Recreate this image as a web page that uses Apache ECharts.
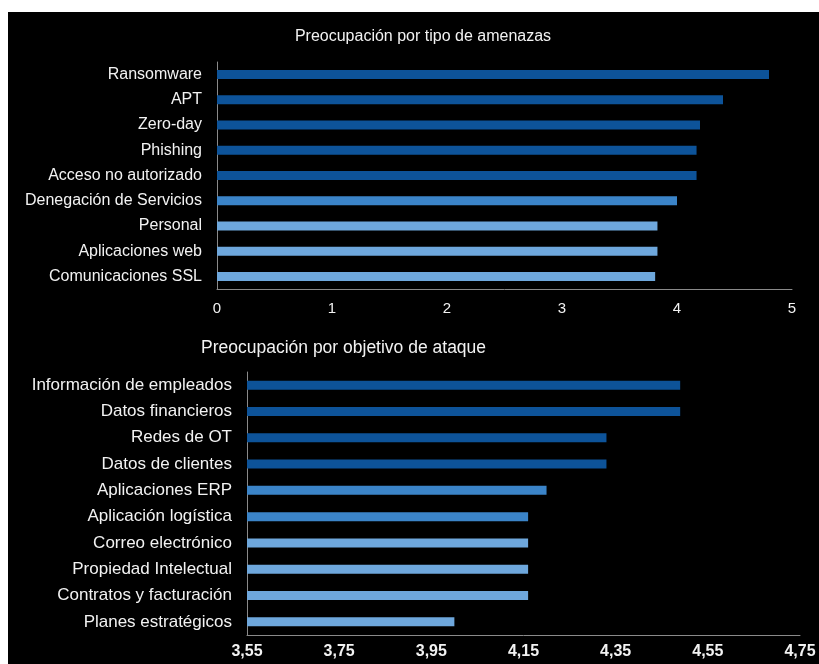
<!DOCTYPE html>
<html>
<head>
<meta charset="utf-8">
<style>
  html, body { margin: 0; padding: 0; background: #ffffff; }
  #chart { width: 819px; height: 664px; }
</style>
<script src="https://cdn.jsdelivr.net/npm/echarts@6/dist/echarts.min.js"></script>
</head>
<body>
<div id="chart"></div>
<script>
// Threat types (top panel)
const threatCategories = ['Ransomware', 'APT', 'Zero-day', 'Phishing', 'Acceso no autorizado',
  'Denegación de Servicios', 'Personal', 'Aplicaciones web', 'Comunicaciones SSL'];
const threatValues = [4.80, 4.40, 4.20, 4.17, 4.17, 4.00, 3.83, 3.83, 3.81];
const threatTiers = [0, 0, 0, 0, 0, 1, 2, 2, 2];
const threatTicks = ['0', '1', '2', '3', '4', '5'];

// Attack targets (bottom panel)
const targetCategories = ['Información de empleados', 'Datos financieros', 'Redes de OT', 'Datos de clientes',
  'Aplicaciones ERP', 'Aplicación logística', 'Correo electrónico', 'Propiedad Intelectual',
  'Contratos y facturación', 'Planes estratégicos'];
const targetValues = [4.49, 4.49, 4.33, 4.33, 4.20, 4.16, 4.16, 4.16, 4.16, 4.00];
const targetTiers = [0, 0, 0, 0, 1, 1, 2, 2, 2, 2];
const targetTicks = ['3,55', '3,75', '3,95', '4,15', '4,35', '4,55', '4,75'];

const tierColors = ['#0d5399', '#3b84c8', '#6ea7dc'];
const axisGray = '#8a8a8a';
const textColor = '#f2f2f2';
const sans = 'Liberation Sans, Arial, sans-serif';

const chart = echarts.init(document.getElementById('chart'));

function barData(values, tiers) {
  return values.map((v, i) => ({ value: v, itemStyle: { color: tierColors[tiers[i]] } }));
}

chart.setOption({
  backgroundColor: '#ffffff',
  animation: false,
  graphic: [{
    type: 'rect', z: -10, silent: true,
    shape: { x: 8, y: 12, width: 811, height: 652 },
    style: { fill: '#000000' }
  }],
  title: [
    {
      text: 'Preocupación por tipo de amenazas',
      left: 418, top: 24, textAlign: 'center',
      textStyle: { color: textColor, fontFamily: sans, fontSize: 16, fontWeight: 'normal' }
    },
    {
      text: 'Preocupación por objetivo de ataque',
      left: 196, top: 334,
      textStyle: { color: textColor, fontFamily: sans, fontSize: 17.5, fontWeight: 'normal' }
    }
  ],
  grid: [
    { left: 217, right: 27, top: 62, height: 227 },
    { left: 247, right: 19, top: 372, height: 263 }
  ],
  xAxis: [
    {
      gridIndex: 0, type: 'value', min: 0, max: 5, interval: 1,
      splitLine: { show: false },
      axisLine: { show: true, lineStyle: { color: axisGray, width: 1 } },
      axisTick: { show: false },
      axisLabel: {
        color: textColor, fontFamily: sans, fontSize: 15, margin: 12,
        formatter: (v) => threatTicks[Math.round(v)]
      }
    },
    {
      gridIndex: 1, type: 'value', min: 3.55, max: 4.75, interval: 0.2,
      splitLine: { show: false },
      axisLine: { show: true, lineStyle: { color: axisGray, width: 1 } },
      axisTick: { show: false },
      axisLabel: {
        color: textColor, fontFamily: sans, fontSize: 16, fontWeight: 'bold', margin: 9,
        formatter: (v) => targetTicks[Math.round((v - 3.55) / 0.2)]
      }
    }
  ],
  yAxis: [
    {
      gridIndex: 0, type: 'category', data: threatCategories, inverse: true,
      axisLine: { show: true, lineStyle: { color: axisGray, width: 1 } },
      axisTick: { show: false },
      axisLabel: { color: textColor, fontFamily: sans, fontSize: 16, margin: 15 }
    },
    {
      gridIndex: 1, type: 'category', data: targetCategories, inverse: true,
      axisLine: { show: true, lineStyle: { color: axisGray, width: 1 } },
      axisTick: { show: false },
      axisLabel: { color: textColor, fontFamily: sans, fontSize: 17, margin: 15 }
    }
  ],
  series: [
    {
      type: 'bar', xAxisIndex: 0, yAxisIndex: 0, barWidth: 9,
      data: barData(threatValues, threatTiers)
    },
    {
      type: 'bar', xAxisIndex: 1, yAxisIndex: 1, barWidth: 9,
      data: barData(targetValues, targetTiers)
    }
  ]
});
</script>
</body>
</html>
